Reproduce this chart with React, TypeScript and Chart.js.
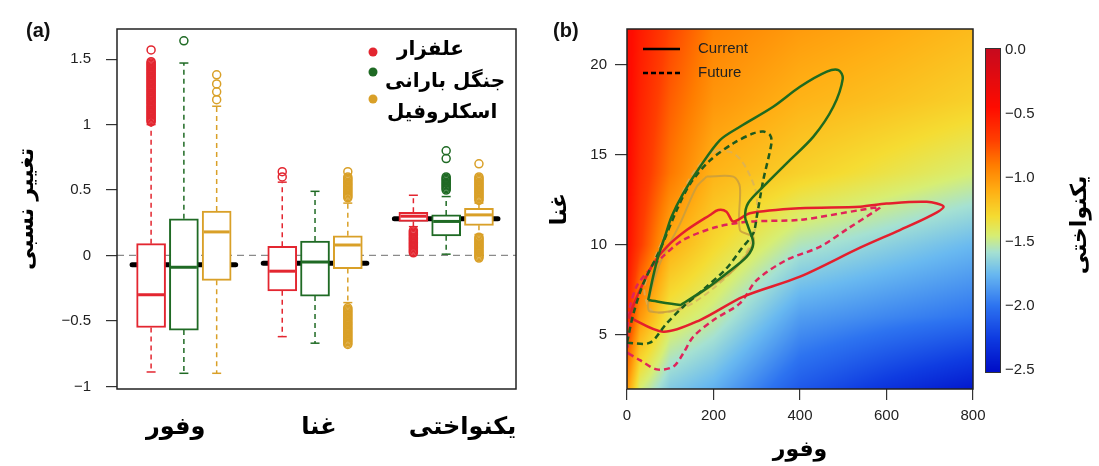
import React, { useEffect, useRef } from 'react';
import { Chart, registerables } from 'chart.js';

Chart.register(...registerables);

// ---------------- Panel (a) data ----------------
const groupLabels = ['وفور', 'غنا', 'یکنواختی'];
const seriesNames = ['علفزار', 'جنگل بارانی', 'اسکلروفیل'];
const seriesColors = ['#e32630', '#1f6a24', '#d9a028'];
const yTicksA = [-1, -0.5, 0, 0.5, 1, 1.5];

// box order: group 0 (series 0,1,2), group 1 (0,1,2), group 2 (0,1,2)
const whiskerLow = [-0.89, -0.9, -0.9, -0.62, -0.67, -0.36, 0.22, 0.01, 0.16];
const quart1 = [-0.55, -0.57, -0.19, -0.27, -0.31, -0.1, 0.26, 0.15, 0.23];
const medians = [-0.3, -0.09, 0.18, -0.12, -0.05, 0.08, 0.3, 0.26, 0.31];
const quart3 = [0.09, 0.28, 0.34, 0.07, 0.11, 0.15, 0.33, 0.31, 0.36];
const whiskerHigh = [1.0, 1.47, 1.14, 0.56, 0.49, 0.4, 0.46, 0.45, 0.4];
const groupMeans = [-0.07, -0.06, 0.28];

const outliers: number[][] = [
  [1.02, 1.03, 1.04, 1.05, 1.06, 1.07, 1.08, 1.09, 1.1, 1.11, 1.12, 1.13, 1.14, 1.15, 1.16, 1.17, 1.18, 1.19, 1.2, 1.21, 1.22, 1.23, 1.24, 1.25, 1.26, 1.27, 1.28, 1.29, 1.3, 1.31, 1.32, 1.33, 1.34, 1.35, 1.36, 1.37, 1.38, 1.39, 1.4, 1.41, 1.42, 1.43, 1.44, 1.45, 1.46, 1.47, 1.48, 1.57],
  [1.64],
  [1.19, 1.25, 1.31, 1.38],
  [0.6, 0.64],
  [],
  [0.44, 0.45, 0.46, 0.47, 0.48, 0.49, 0.5, 0.51, 0.52, 0.53, 0.54, 0.55, 0.56, 0.57, 0.58, 0.59, 0.6, 0.64,
   -0.4, -0.41, -0.42, -0.43, -0.44, -0.45, -0.46, -0.47, -0.48, -0.49, -0.5, -0.51, -0.52, -0.53, -0.54, -0.55, -0.56, -0.57, -0.58, -0.59, -0.6, -0.61, -0.62, -0.63, -0.64, -0.65, -0.66, -0.67, -0.68],
  [0.02, 0.03, 0.04, 0.05, 0.06, 0.07, 0.08, 0.09, 0.1, 0.11, 0.12, 0.13, 0.14, 0.15, 0.16, 0.17, 0.18, 0.19],
  [0.5, 0.51, 0.52, 0.53, 0.54, 0.55, 0.56, 0.57, 0.58, 0.59, 0.6, 0.74, 0.8],
  [0.42, 0.43, 0.44, 0.45, 0.46, 0.47, 0.48, 0.49, 0.5, 0.51, 0.52, 0.53, 0.54, 0.55, 0.56, 0.57, 0.58, 0.59, 0.6, 0.7,
   -0.02, -0.01, 0.0, 0.01, 0.02, 0.03, 0.04, 0.05, 0.06, 0.07, 0.08, 0.09, 0.1, 0.11, 0.12, 0.13, 0.14],
];

// ---------------- Panel (b) data ----------------
const xTicksB = [0, 200, 400, 600, 800];
const yTicksB = [5, 10, 15, 20];
const colorbarTicks = [0, -0.5, -1, -1.5, -2, -2.5];

const heatX = [0, 30, 100, 200, 400, 600, 800];
const heatY = [2, 6, 10, 14, 18, 22];
const heatZ = [
  [-1.0, -1.45, -1.68, -1.78, -2.12, -2.3, -2.45],
  [-0.55, -1.0, -1.38, -1.5, -1.85, -1.93, -2.0],
  [-0.45, -0.68, -1.1, -1.28, -1.55, -1.65, -1.75],
  [-0.42, -0.6, -0.88, -1.12, -1.25, -1.35, -1.45],
  [-0.4, -0.56, -0.8, -1.0, -1.12, -1.18, -1.25],
  [-0.4, -0.52, -0.72, -0.92, -1.02, -1.08, -1.15],
];

const rainCurrent: [number, number][] = [
  [49, 6.94], [60, 8.2], [72, 9.35], [88, 10.5], [103, 11.57], [130, 12.87], [169, 14.35], [215, 15.83],
  [261, 16.57], [338, 17.68], [400, 18.79], [462, 19.63], [489, 19.72], [499, 19.26], [477, 17.68],
  [431, 16.02], [369, 14.54], [315, 13.24], [280, 12.32], [273, 11.57], [280, 11.02], [292, 10.09],
  [277, 9.35], [230, 8.42], [184, 7.59], [130, 6.76], [123, 6.67], [49, 6.94],
];
const rainFuture: [number, number][] = [
  [0, 4.57], [53, 4.57], [90, 5.6], [130, 6.57], [180, 7.6], [230, 8.7], [265, 9.8], [292, 10.65],
  [300, 11.57], [315, 13.6], [334, 15.65], [331, 16.1], [315, 16.3], [292, 16.2], [246, 15.65],
  [192, 14.7], [146, 13.4], [115, 11.94], [76, 9.72], [38, 7.87], [15, 6.2], [0, 4.57],
];
const sclerCurrent: [number, number][] = [
  [184, 13.8], [246, 13.8], [261, 13.24], [261, 10.83], [292, 10.46], [288, 9.9], [246, 8.6],
  [169, 7.3], [115, 6.4], [53, 6.3], [49, 6.76], [76, 8.98], [123, 11.2], [161, 13.24], [184, 13.8],
];
const sclerFuture: [number, number][] = [
  [207, 15.28], [246, 15.1], [275, 14.3], [300, 12.7], [292, 10.46], [260, 9.0], [200, 7.6],
  [130, 6.5], [60, 6.3], [40, 7.5], [60, 9.0], [92, 10.83], [138, 13.4], [169, 14.5], [207, 15.28],
];
const grassCurrent: [number, number][] = [
  [3, 6.0], [84, 5.18], [169, 5.83], [269, 7.13], [400, 8.24], [539, 9.85], [631, 10.83], [700, 11.6],
  [732, 12.13], [693, 12.4], [600, 12.3], [539, 12.13], [400, 12.04], [284, 11.76], [246, 11.3],
  [230, 11.85], [211, 11.94], [192, 11.67], [138, 10.83], [92, 9.9], [61, 8.98], [30, 7.5], [7, 6.2], [3, 6.0],
];
const grassFuture: [number, number][] = [
  [3, 3.98], [30, 3.6], [69, 3.09], [107, 3.24], [130, 3.98], [153, 4.9], [200, 5.83], [261, 6.76],
  [300, 8.05], [369, 9.17], [446, 9.9], [510, 10.9], [577, 11.94], [585, 12.1], [539, 11.94],
  [400, 11.4], [284, 11.3], [207, 11.0], [130, 10.28], [80, 9.3], [40, 8.3], [22, 7.7], [7, 6.57],
  [1, 5.5], [1, 4.5], [3, 3.98],
];

// colour map (value -> rgb)
const cmapStops: [number, number, number, number][] = [
  [0.0, 200, 10, 30],
  [-0.45, 255, 12, 0],
  [-0.7, 255, 62, 0],
  [-0.9, 255, 125, 0],
  [-1.1, 255, 175, 20],
  [-1.3, 245, 220, 50],
  [-1.45, 215, 238, 115],
  [-1.58, 165, 225, 210],
  [-1.75, 105, 185, 240],
  [-2.0, 45, 115, 240],
  [-2.25, 15, 60, 225],
  [-2.5, 0, 15, 200],
];

function cmap(v: number): [number, number, number] {
  if (v >= cmapStops[0][0]) return [cmapStops[0][1], cmapStops[0][2], cmapStops[0][3]];
  for (let i = 0; i < cmapStops.length - 1; i++) {
    const a = cmapStops[i], b = cmapStops[i + 1];
    if (v <= a[0] && v >= b[0]) {
      const t = (a[0] - v) / (a[0] - b[0]);
      return [a[1] + (b[1] - a[1]) * t, a[2] + (b[2] - a[2]) * t, a[3] + (b[3] - a[3]) * t];
    }
  }
  const l = cmapStops[cmapStops.length - 1];
  return [l[1], l[2], l[3]];
}

function findCell(arr: number[], v: number) {
  if (v <= arr[0]) return { i: 0, t: 0 };
  for (let i = 0; i < arr.length - 1; i++) {
    if (v <= arr[i + 1]) return { i, t: (v - arr[i]) / (arr[i + 1] - arr[i]) };
  }
  return { i: arr.length - 2, t: 1 };
}

function heatValue(x: number, y: number) {
  const cx = findCell(heatX, x), cy = findCell(heatY, y);
  const z00 = heatZ[cy.i][cx.i], z01 = heatZ[cy.i][cx.i + 1];
  const z10 = heatZ[cy.i + 1][cx.i], z11 = heatZ[cy.i + 1][cx.i + 1];
  const a = z00 + (z01 - z00) * cx.t;
  const b = z10 + (z11 - z10) * cx.t;
  return a + (b - a) * cy.t;
}

const minus = (s: string) => s.replace('-', '\u2212');
const arabicFont = "'DejaVu Sans', sans-serif";
const latinFont = "'Liberation Sans', Arial, sans-serif";

// ---------------- Chart (a) ----------------
function buildA(): any {
  const boxPos = (i: number) => 1 + Math.floor(i / 3) * 4 + (i % 3);
  const colorOf = (i: number) => seriesColors[i % 3];
  const labelShift = [-0.25, 0.12, 0.5];
  const groupCenters = groupLabels.map((_, g) => 2 + g * 4 + labelShift[g]);
  const meanHalf = 1.58;

  const boxes = quart1.map((q, i) => ({ x: boxPos(i), y: [q, quart3[i]] }));
  const boxColors = quart1.map((_, i) => colorOf(i));
  const medPts = medians.map((m, i) => ({ x: boxPos(i), y: m }));
  const capPts: any[] = [];
  const capColors: string[] = [];
  whiskerLow.forEach((lo, i) => {
    capPts.push({ x: boxPos(i), y: lo }, { x: boxPos(i), y: whiskerHigh[i] });
    capColors.push(colorOf(i), colorOf(i));
  });

  const whiskerSets = seriesColors.map((c, s) => {
    const data: any[] = [];
    for (let g = 0; g < 3; g++) {
      const i = g * 3 + s;
      const x = boxPos(i);
      data.push({ x, y: quart3[i] }, { x, y: whiskerHigh[i] }, { x, y: null },
        { x, y: quart1[i] }, { x, y: whiskerLow[i] }, { x, y: null });
    }
    return { type: 'line', data, borderColor: c, borderWidth: 1.5, borderDash: [5, 4], pointRadius: 0, spanGaps: false, order: 18 };
  });

  const meanData: any[] = [];
  groupMeans.forEach((m, g) => {
    const c = 2 + g * 4;
    meanData.push({ x: c - meanHalf, y: m }, { x: c + meanHalf, y: m }, { x: c + meanHalf, y: null });
  });

  const outlierSets = outliers.map((vals, i) => ({
    type: 'scatter',
    data: vals.map((v) => ({ x: boxPos(i), y: v })),
    pointStyle: 'circle',
    pointRadius: 4,
    pointBorderWidth: 1.5,
    pointBorderColor: colorOf(i),
    pointBackgroundColor: 'rgba(255,255,255,0)',
    showLine: false,
    order: 14,
  }));

  const xMin = -0.04, xMax = 12.13;

  const decor = {
    id: 'decorA',
    afterDatasetsDraw(chart: any) {
      const { ctx, chartArea: a } = chart;
      ctx.save();
      ctx.strokeStyle = '#222';
      ctx.lineWidth = 1.5;
      ctx.strokeRect(a.left, a.top, a.right - a.left, a.bottom - a.top);
      ctx.fillStyle = '#111';
      ctx.font = `bold 20px ${latinFont}`;
      ctx.textAlign = 'left';
      ctx.textBaseline = 'middle';
      ctx.fillText('(a)', 26, 31);
      const dotY = [52, 72, 99];
      const txtY = [50, 82, 113];
      const txtX = [397, 385, 387];
      seriesNames.forEach((n, s) => {
        ctx.beginPath();
        ctx.fillStyle = seriesColors[s];
        ctx.arc(a.left + 256, dotY[s], 4.5, 0, Math.PI * 2);
        ctx.fill();
        ctx.fillStyle = '#000';
        ctx.font = `bold 20px ${arabicFont}`;
        ctx.textAlign = 'left';
        ctx.fillText(n, txtX[s], txtY[s]);
      });
      ctx.restore();
    },
  };

  return {
    type: 'bar',
    data: {
      datasets: [
        { type: 'line', data: [{ x: xMin, y: 0 }, { x: xMax, y: 0 }], borderColor: '#8a8a8a', borderWidth: 1.2, borderDash: [7, 5], pointRadius: 0, order: 20 },
        { type: 'line', data: meanData, borderColor: '#000', borderWidth: 5, borderCapStyle: 'round', pointRadius: 0, spanGaps: false, order: 19 },
        ...whiskerSets,
        { type: 'bar', data: boxes, backgroundColor: '#ffffff', borderColor: boxColors, borderWidth: 2, borderSkipped: false, barThickness: 29, order: 17 },
        { type: 'scatter', data: medPts, pointStyle: 'line', pointRadius: 13, pointBorderWidth: 3, pointBorderColor: boxColors, order: 16 },
        { type: 'scatter', data: capPts, pointStyle: 'line', pointRadius: 4.5, pointBorderWidth: 1.5, pointBorderColor: capColors, order: 15 },
        ...outlierSets,
      ],
    },
    options: {
      animation: false,
      responsive: false,
      devicePixelRatio: 1,
      events: [],
      layout: { padding: { left: 0, top: 29, right: 24, bottom: 0 } },
      plugins: { legend: { display: false }, tooltip: { enabled: false } },
      scales: {
        x: {
          type: 'linear',
          offset: false,
          min: xMin,
          max: xMax,
          afterBuildTicks: (s: any) => { s.ticks = groupCenters.map((v) => ({ value: v })); },
          afterFit: (s: any) => { s.height = 77; s.paddingLeft = 0; s.paddingRight = 0; },
          ticks: {
            autoSkip: false,
            maxRotation: 0,
            callback: (_v: any, i: number) => groupLabels[i],
            font: { family: arabicFont, weight: 'bold', size: 24 },
            color: '#000',
            padding: 24,
          },
          grid: { display: false, drawTicks: false, offset: false },
          border: { display: false },
        },
        y: {
          type: 'linear',
          min: -1.02,
          max: 1.73,
          afterBuildTicks: (s: any) => { s.ticks = yTicksA.map((v) => ({ value: v })); },
          afterFit: (s: any) => { s.width = 117; },
          ticks: {
            callback: (v: any) => minus(String(v)),
            font: { family: latinFont, size: 15 },
            color: '#222',
            padding: 15,
          },
          grid: { drawOnChartArea: false, drawTicks: true, tickLength: 11, color: '#333', lineWidth: 1.2 },
          border: { display: false },
          title: {
            display: true,
            text: 'تغییر نسبی',
            font: { family: arabicFont, weight: 'bold', size: 22 },
            color: '#000',
            padding: { top: 14, bottom: 0 },
          },
        },
      },
    },
    plugins: [decor],
  };
}

// ---------------- Chart (b) ----------------
function buildB(): any {
  const pts = (arr: [number, number][]) => arr.map(([x, y]) => ({ x, y }));
  const line = (arr: [number, number][], color: string, dashed: boolean, width: number, order: number) => ({
    type: 'scatter',
    data: pts(arr),
    showLine: true,
    borderColor: color,
    borderWidth: width,
    borderDash: dashed ? [6, 4] : [],
    tension: 0.3,
    pointRadius: 0,
    order,
  });

  const cbTop = 50, cbBottom = 370, cbMin = -2.5, cbMax = 0;
  const cbY = (v: number) => cbTop + ((cbMax - v) / (cbMax - cbMin)) * (cbBottom - cbTop);

  const heat = {
    id: 'heat',
    beforeDatasetsDraw(chart: any) {
      const { ctx, chartArea: a, scales } = chart;
      const xs = scales.x, ys = scales.y;
      const w = Math.round(a.right - a.left), h = Math.round(a.bottom - a.top);
      const img = ctx.createImageData(w, h);
      for (let j = 0; j < h; j++) {
        const yv = ys.getValueForPixel(a.top + j + 0.5);
        for (let i = 0; i < w; i++) {
          const xv = xs.getValueForPixel(a.left + i + 0.5);
          const [r, g, b] = cmap(heatValue(xv, yv));
          const k = (j * w + i) * 4;
          img.data[k] = r; img.data[k + 1] = g; img.data[k + 2] = b; img.data[k + 3] = 255;
        }
      }
      ctx.putImageData(img, Math.round(a.left), Math.round(a.top));
    },
  };

  const decor = {
    id: 'decorB',
    afterDatasetsDraw(chart: any) {
      const { ctx, chartArea: a } = chart;
      ctx.save();
      ctx.strokeStyle = '#222';
      ctx.lineWidth = 1.5;
      ctx.strokeRect(a.left, a.top, a.right - a.left, a.bottom - a.top);
      // panel label
      ctx.fillStyle = '#111';
      ctx.font = `bold 20px ${latinFont}`;
      ctx.textAlign = 'left';
      ctx.textBaseline = 'middle';
      ctx.fillText('(b)', 13, 31);
      // legend
      const legendItems = [{ t: 'Current', dash: [] as number[], y: 49 }, { t: 'Future', dash: [5, 3], y: 73 }];
      legendItems.forEach((it) => {
        ctx.beginPath();
        ctx.setLineDash(it.dash);
        ctx.strokeStyle = '#000';
        ctx.lineWidth = 2.5;
        ctx.moveTo(a.left + 16, it.y);
        ctx.lineTo(a.left + 53, it.y);
        ctx.stroke();
        ctx.setLineDash([]);
        ctx.fillStyle = '#222';
        ctx.font = `15px ${latinFont}`;
        ctx.fillText(it.t, a.left + 71, it.y);
      });
      // colour bar
      const cbLeft = a.right + 12, cbW = 15;
      for (let y = cbTop - 2; y < cbBottom + 2; y++) {
        const v = Math.max(cbMin, Math.min(cbMax, cbMax - ((y + 0.5 - cbTop) / (cbBottom - cbTop)) * (cbMax - cbMin)));
        const [r, g, b] = cmap(v);
        ctx.fillStyle = `rgb(${r | 0},${g | 0},${b | 0})`;
        ctx.fillRect(cbLeft, y, cbW, 1);
      }
      ctx.strokeStyle = '#333';
      ctx.lineWidth = 1;
      ctx.strokeRect(cbLeft + 0.5, cbTop - 2 + 0.5, cbW, cbBottom - cbTop + 4);
      ctx.fillStyle = '#222';
      ctx.font = `15px ${latinFont}`;
      ctx.textAlign = 'left';
      colorbarTicks.forEach((v) => {
        ctx.fillText(minus(v.toFixed(1)).replace('\u22120.0', '0.0'), cbLeft + 20, cbY(v));
      });
      // colour bar title
      ctx.save();
      ctx.translate(540, 225);
      ctx.rotate(-Math.PI / 2);
      ctx.textAlign = 'center';
      ctx.textBaseline = 'middle';
      ctx.fillStyle = '#000';
      ctx.font = `bold 22px ${arabicFont}`;
      ctx.fillText('یکنواختی', 0, 0);
      ctx.restore();
      ctx.restore();
    },
  };

  return {
    type: 'scatter',
    data: {
      datasets: [
        line(sclerFuture, 'rgba(214,176,96,0.75)', true, 2, 30),
        line(sclerCurrent, 'rgba(201,158,62,0.85)', false, 2, 29),
        line(grassFuture, '#e0245a', true, 2.5, 28),
        line(grassCurrent, '#e41f2d', false, 2.5, 27),
        line(rainFuture, '#1d5a1f', true, 2.5, 26),
        line(rainCurrent, '#1f6a1f', false, 2.5, 25),
      ],
    },
    options: {
      animation: false,
      responsive: false,
      devicePixelRatio: 1,
      events: [],
      layout: { padding: { left: 0, top: 29, right: 126, bottom: 0 } },
      plugins: { legend: { display: false }, tooltip: { enabled: false } },
      scales: {
        x: {
          type: 'linear',
          min: 0,
          max: 800,
          afterBuildTicks: (s: any) => { s.ticks = xTicksB.map((v) => ({ value: v })); },
          afterFit: (s: any) => { s.height = 77; s.paddingLeft = 0; s.paddingRight = 0; },
          ticks: { font: { family: latinFont, size: 15 }, color: '#222', padding: 7, maxRotation: 0, autoSkip: false },
          grid: { drawOnChartArea: false, drawTicks: true, tickLength: 11, color: '#333', lineWidth: 1.2 },
          border: { display: false },
          title: {
            display: true,
            text: 'وفور',
            font: { family: arabicFont, weight: 'bold', size: 22 },
            color: '#000',
            padding: { top: 0, bottom: 3 },
          },
        },
        y: {
          type: 'linear',
          min: 2,
          max: 22,
          afterBuildTicks: (s: any) => { s.ticks = yTicksB.map((v) => ({ value: v })); },
          afterFit: (s: any) => { s.width = 87; },
          ticks: { font: { family: latinFont, size: 15 }, color: '#222', padding: 8 },
          grid: { drawOnChartArea: false, drawTicks: true, tickLength: 12, color: '#333', lineWidth: 1.2 },
          border: { display: false },
          title: {
            display: true,
            text: 'غنا',
            font: { family: arabicFont, weight: 'bold', size: 22 },
            color: '#000',
            padding: { top: 7, bottom: 0 },
          },
        },
      },
    },
    plugins: [heat, decor],
  };
}

export default function App() {
  const refA = useRef<HTMLCanvasElement>(null);
  const refB = useRef<HTMLCanvasElement>(null);
  useEffect(() => {
    const ca = new Chart(refA.current as HTMLCanvasElement, buildA());
    const cb = new Chart(refB.current as HTMLCanvasElement, buildB());
    return () => {
      ca.destroy();
      cb.destroy();
    };
  }, []);
  return (
    <div style={{ position: 'absolute', left: 0, top: 0, width: 1099, height: 466, background: '#fff', overflow: 'hidden' }}>
      <div style={{ position: 'absolute', left: 0, top: 0, width: 540, height: 466 }}>
        <canvas ref={refA} width={540} height={466} style={{ display: 'block' }} />
      </div>
      <div style={{ position: 'absolute', left: 540, top: 0, width: 559, height: 466 }}>
        <canvas ref={refB} width={559} height={466} style={{ display: 'block' }} />
      </div>
    </div>
  );
}
